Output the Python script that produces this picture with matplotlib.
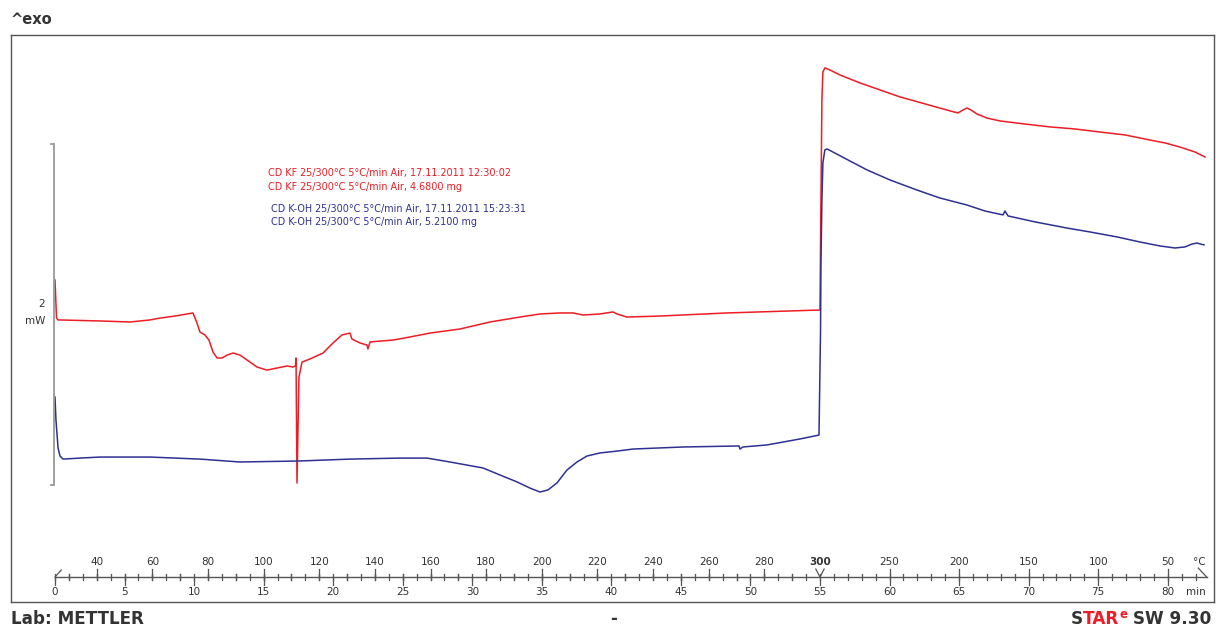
import matplotlib
matplotlib.use("Agg")
import matplotlib.pyplot as plt
import numpy as np

# DSC curves, time in min, heat flow in mW (offset so the 2 mW scale bar runs 0..2)
t_kf = [0, 0.11, 0.22, 0.36, 3.24, 5.39, 6.83, 7.55, 8.63, 9.92, 10.21, 10.42, 10.78,
        11.07, 11.36, 11.65, 12.01, 12.37, 12.80, 13.30, 14.02, 14.52, 15.24, 15.96,
        16.68, 17.11, 17.29, 17.33, 17.40, 17.54, 17.76, 18.33, 19.27, 19.99, 20.63,
        21.21, 21.35, 21.93, 22.43, 22.50, 22.65, 24.30, 25.52, 26.96, 29.12, 31.27,
        33.43, 34.87, 36.31, 37.24, 37.96, 39.18, 40.12, 40.41, 41.12, 43.50, 48.31,
        54.86, 55.00, 55.07, 55.14, 55.21, 55.35, 55.71, 56.43, 57.87, 59.31, 60.75,
        62.55, 64.35, 64.92, 65.28, 65.57, 65.86, 66.29, 67.01, 67.94, 69.74, 71.54,
        73.33, 75.13, 76.93, 78.73, 79.81, 80.88, 81.96, 82.68]
mw_kf = [1.202, 0.979, 0.968, 0.968, 0.962, 0.956, 0.968, 0.979, 0.991, 1.009, 0.950,
         0.897, 0.880, 0.850, 0.780, 0.745, 0.745, 0.762, 0.774, 0.762, 0.721, 0.692,
         0.674, 0.686, 0.698, 0.692, 0.698, 0.745, 0.012, 0.633, 0.721, 0.739, 0.774,
         0.833, 0.880, 0.891, 0.856, 0.833, 0.821, 0.798, 0.839, 0.850, 0.868, 0.891,
         0.915, 0.956, 0.985, 1.003, 1.009, 1.009, 0.997, 1.003, 1.015, 1.003, 0.985,
         0.991, 1.009, 1.026, 1.026, 1.672, 2.258, 2.422, 2.446, 2.434, 2.405, 2.358,
         2.317, 2.276, 2.235, 2.194, 2.182, 2.199, 2.211, 2.199, 2.176, 2.152, 2.135,
         2.117, 2.100, 2.088, 2.070, 2.053, 2.023, 2.006, 1.982, 1.953, 1.924]

t_koh = [0, 0.07, 0.22, 0.36, 0.58, 1.80, 3.24, 6.83, 10.42, 13.30, 17.61, 21.21, 24.80,
         26.74, 28.40, 30.77, 31.99, 33.22, 34.15, 34.87, 35.44, 36.09, 36.81, 37.53,
         38.25, 39.18, 40.41, 41.56, 45.15, 49.18, 49.25, 49.46, 51.19, 53.56, 54.93,
         55.04, 55.07, 55.14, 55.21, 55.35, 55.50, 56.07, 57.16, 58.38, 60.03, 61.97,
         63.63, 65.57, 66.86, 68.16, 68.30, 68.52, 70.46, 72.76, 74.41, 76.35, 78.01,
         79.44, 80.52, 81.24, 81.74, 82.11, 82.61]
mw_koh = [0.516, 0.381, 0.217, 0.170, 0.152, 0.158, 0.164, 0.164, 0.152, 0.135, 0.141,
          0.152, 0.158, 0.158, 0.135, 0.100, 0.059, 0.018, -0.018, -0.041, -0.029, 0.012,
          0.088, 0.135, 0.170, 0.188, 0.199, 0.211, 0.223, 0.229, 0.211, 0.223, 0.235,
          0.270, 0.293, 0.900, 1.302, 1.672, 1.889, 1.965, 1.971, 1.947, 1.900, 1.848,
          1.789, 1.730, 1.683, 1.642, 1.607, 1.584, 1.607, 1.578, 1.543, 1.507, 1.484,
          1.455, 1.425, 1.402, 1.390, 1.396, 1.413, 1.419, 1.408]

legend_kf = ["CD KF 25/300°C 5°C/min Air, 17.11.2011 12:30:02",
             "CD KF 25/300°C 5°C/min Air, 4.6800 mg"]
legend_koh = ["CD K-OH 25/300°C 5°C/min Air, 17.11.2011 15:23:31",
              "CD K-OH 25/300°C 5°C/min Air, 5.2100 mg"]

# temperature program: 25 -> 300 °C at 5 K/min, then 300 -> 25 °C at 10 K/min
t_start, t_turn, t_end = 0.0, 55.0, 82.8
heat_labels = list(range(40, 300, 20))
cool_labels = [250, 200, 150, 100, 50]
time_labels = list(range(0, 85, 5))
scale_mw = 2

RED = "#ee1c25"
BLUE = "#2e3192"
GREY = "#555555"
TXT = "#333333"

def t_heat(T):
    return (T - 25) / 5.0

def t_cool(T):
    return t_turn + (300 - T) / 10.0

fig = plt.figure(figsize=(12.16, 6.28), dpi=100)
W, H = 1216, 628
ax = fig.add_axes([11 / W, (H - 602) / H, (1214 - 11) / W, 567 / H])
ax.set_xlim(-3.163, 83.33)
ax.set_ylim(-0.686, 2.639)
ax.set_xticks([])
ax.set_yticks([])
for s in ax.spines.values():
    s.set_color(GREY)
    s.set_linewidth(1.0)

ax.plot(t_kf, mw_kf, color=RED, lw=1.1)
ax.plot(t_koh, mw_koh, color=BLUE, lw=1.1)

# legend block
for i, s in enumerate(legend_kf):
    ax.text(15.3, 1.83 - i * 0.082, s, color=RED, fontsize=6.9, va="center")
for i, s in enumerate(legend_koh):
    ax.text(15.5, 1.62 - i * 0.076, s, color=BLUE, fontsize=6.9, va="center")

# 2 mW scale bar
bx = -0.07
ax.plot([bx - 0.25, bx, bx, bx - 0.25], [0, 0, scale_mw, scale_mw], color="#999999",
        lw=1.3, solid_joinstyle="miter")
ax.text(bx - 0.65, scale_mw / 2 + 0.06, str(scale_mw), ha="right", va="center",
        fontsize=7.5, color=TXT)
ax.text(bx - 0.6, scale_mw / 2 - 0.04, "mW", ha="right", va="center", fontsize=7.5,
        color=TXT)

# bottom time / temperature scale
def py(p):
    return (485 - p) / 170.5

y0 = py(577)
ax.plot([t_start, t_end], [y0, y0], color=GREY, lw=1.0)
for m in range(0, 83):
    ax.plot([m, m], [py(580), py(574)], color=GREY, lw=0.9)
for m in time_labels:
    ax.plot([m, m], [y0, py(585)], color=GREY, lw=0.9)
    if m <= 80:
        ax.text(m, py(592), str(m), ha="center", va="center", fontsize=7.5, color=TXT)
for T in range(30, 300, 10):
    ax.plot([t_heat(T), t_heat(T)], [py(580), py(574)], color=GREY, lw=0.9)
for T in heat_labels:
    ax.plot([t_heat(T), t_heat(T)], [y0, py(569)], color=GREY, lw=0.9)
    ax.text(t_heat(T), py(562), str(T), ha="center", va="center", fontsize=7.5, color=TXT)
for T in cool_labels:
    ax.plot([t_cool(T), t_cool(T)], [y0, py(569)], color=GREY, lw=0.9)
    ax.text(t_cool(T), py(562), str(T), ha="center", va="center", fontsize=7.5, color=TXT)
ax.text(t_turn, py(562), "300", ha="center", va="center", fontsize=7.5, color=TXT,
        fontweight="bold")
# segment markers
ax.plot([t_start, t_start + 0.45], [y0, py(570)], color=GREY, lw=0.9)
ax.plot([t_turn - 0.3, t_turn, t_turn + 0.3], [py(569), y0, py(569)], color=GREY, lw=0.9)
ax.plot([t_end - 0.6, t_end], [py(568), y0], color=GREY, lw=0.9)
ax.text(82.25, py(562), "°C", ha="center", va="center", fontsize=7.5, color=TXT)
ax.text(82.0, py(592), "min", ha="center", va="center", fontsize=7.5, color=TXT)

# header / footer
fig.text(11 / W, 1 - 20 / H, "^exo", fontsize=10.5, fontweight="bold", color=TXT,
         va="center", ha="left")
fig.text(11 / W, 1 - 619 / H, "Lab: METTLER", fontsize=12.1, fontweight="bold", color=TXT,
         va="center", ha="left")
fig.text(614 / W, 1 - 619 / H, "-", fontsize=12, fontweight="bold", color=TXT,
         va="center", ha="center")

renderer = fig.canvas.get_renderer()
x = 1071 / W
parts = [("S", TXT, 0), ("TAR", RED, 0), ("e", RED, 1), (" SW 9.30", TXT, 0)]
for s, c, sup in parts:
    if sup:
        t = fig.text(x, 1 - 614 / H, s, fontsize=8.5, fontweight="bold", color=c,
                     va="center", ha="left")
    else:
        t = fig.text(x, 1 - 619 / H, s, fontsize=12.2, fontweight="bold", color=c,
                     va="center", ha="left")
    bb = t.get_window_extent(renderer)
    x += bb.width / W

fig.savefig("out.png", dpi=100)
